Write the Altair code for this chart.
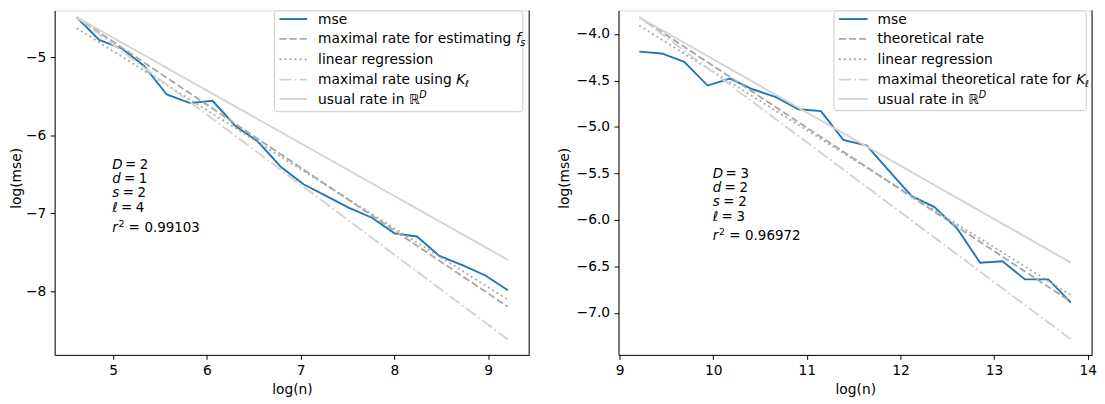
import altair as alt
import pandas as pd

FONT = "DejaVu Sans"
FS = 13.9
AFS = 13.5
LW = 1.9

# ---------------- data ----------------
# left panel
left_logn = [4.61, 4.85, 5.09, 5.33, 5.57, 5.82, 6.06, 6.30, 6.54, 6.79,
             7.03, 7.27, 7.51, 7.76, 8.00, 8.24, 8.48, 8.73, 8.97, 9.21]
left_mse = [-4.49, -4.78, -4.89, -5.115, -5.48, -5.59, -5.56, -5.88, -6.08, -6.41,
            -6.63, -6.78, -6.93, -7.06, -7.26, -7.30, -7.55, -7.67, -7.80, -7.99]
left_ends = [4.61, 9.21]
left_rate_fs = [-4.49, -8.20]
left_linreg = [-4.63, -8.11]
left_rate_K = [-4.49, -8.62]
left_usual = [-4.49, -7.60]

# right panel
right_logn = [9.21, 9.45, 9.69, 9.94, 10.18, 10.42, 10.67, 10.91, 11.15, 11.39,
              11.64, 11.88, 12.12, 12.36, 12.61, 12.85, 13.09, 13.33, 13.58, 13.82]
right_mse = [-4.19, -4.21, -4.30, -4.555, -4.48, -4.595, -4.68, -4.81, -4.83, -5.14,
             -5.20, -5.475, -5.745, -5.86, -6.10, -6.46, -6.445, -6.64, -6.64, -6.89]
right_ends = [9.21, 13.82]
right_theory = [-3.82, -6.88]
right_linreg = [-3.91, -6.81]
right_rate_K = [-3.82, -7.285]
right_usual = [-3.82, -6.46]

left_xticks = [5, 6, 7, 8, 9]
left_yticks = [-8, -7, -6, -5]
right_xticks = [9, 10, 11, 12, 13, 14]
right_yticks = [-7.0, -6.5, -6.0, -5.5, -5.0, -4.5, -4.0]

left_legend = ["mse", "maximal rate for estimating ", "linear regression",
               "maximal rate using ", "usual rate in "]
right_legend = ["mse", "theoretical rate", "linear regression",
                "maximal theoretical rate for ", "usual rate in "]
left_math = [None, ("f", "s", "sub"), None, ("K", "ℓ", "sub"), ("ℝ", "D", "sup")]
right_math = [None, None, None, ("K", "ℓ", "sub"), ("ℝ", "D", "sup")]

param_names = ["D", "d", "s", "ℓ", "r"]
left_values = ["2", "1", "2", "4", "0.99103"]
right_values = ["3", "2", "2", "3", "0.96972"]

# ---------------- styles ----------------
BLUE = "#1f77b4"
DARK = "#a9a9a9"
LIGHT = "#d3d3d3"
STYLES = [
    dict(color=BLUE, dash=None),
    dict(color=DARK, dash=[7.1, 3.1]),
    dict(color=DARK, dash=[1.9, 3.2]),
    dict(color=LIGHT, dash=[12.3, 3.1, 1.9, 3.1]),
    dict(color=LIGHT, dash=None),
]

ADV = {' ': 0.318, 'a': 0.613, 'b': 0.635, 'c': 0.550, 'd': 0.635, 'e': 0.615, 'f': 0.352,
       'g': 0.635, 'h': 0.634, 'i': 0.278, 'j': 0.278, 'k': 0.579, 'l': 0.278, 'm': 0.974,
       'n': 0.634, 'o': 0.612, 'p': 0.635, 'q': 0.635, 'r': 0.411, 's': 0.521, 't': 0.392,
       'u': 0.634, 'v': 0.592, 'w': 0.818, 'x': 0.592, 'y': 0.592, 'z': 0.525,
       'D': 0.770, 'K': 0.656, 'ℝ': 0.72, 'ℓ': 0.42}
# offset of "=" after each italic name, and of the value after "="
EQ_OFF = {"D": 12.8, "d": 11.8, "s": 10.5, "ℓ": 8.8, "r": 16.5}
VAL_OFF = {"D": 15.0, "d": 15.0, "s": 15.0, "ℓ": 15.0, "r": 16.0}


def text_w(s, fs):
    return sum(ADV.get(c, 0.6) for c in s) * fs


def one():
    return pd.DataFrame({"k": [0]})


def txt(x, y, s, fs=FS, style="normal"):
    return (alt.Chart(one())
            .mark_text(align="left", baseline="alphabetic", font=FONT, fontSize=fs,
                       color="black", fontStyle=style)
            .encode(x=alt.value(x), y=alt.value(y), text=alt.value(s)))


def panel(logn, mse, ends, refs, xdom, ydom, xticks, yticks, yfmt, w, h,
          yextent, ytpad, legend, math, box, handle_x, text_x, values, ann_x, ann_y):
    x_enc = alt.X("x:Q", scale=alt.Scale(domain=xdom, nice=False, zero=False),
                  axis=alt.Axis(values=xticks, format="d", title="log(n)", grid=False,
                                labelFont=FONT, labelFontSize=FS, labelColor="black",
                                titleFont=FONT, titleFontSize=FS, titleFontWeight="normal",
                                titleColor="black", tickColor="black", tickSize=4.5,
                                tickWidth=1, domainColor="black", domainWidth=1,
                                labelPadding=4, titlePadding=6, labelFlush=False,
                                labelOverlap=False))
    y_enc = alt.Y("y:Q", scale=alt.Scale(domain=ydom, nice=False, zero=False),
                  axis=alt.Axis(values=yticks, format=yfmt, title="log(mse)", grid=False,
                                labelFont=FONT, labelFontSize=FS, labelColor="black",
                                titleFont=FONT, titleFontSize=FS, titleFontWeight="normal",
                                titleColor="black", tickColor="black", tickSize=4.5,
                                tickWidth=1, domainColor="black", domainWidth=1,
                                labelPadding=4.5, titlePadding=ytpad, minExtent=yextent,
                                maxExtent=yextent, titleY=168.7, labelFlush=False,
                                labelOverlap=False))
    layers = []
    series = [(logn, mse)] + [(ends, r) for r in refs]
    for (xs, ys), st in zip(series, STYLES):
        kw = dict(color=st["color"], strokeWidth=LW, strokeCap="butt")
        if st["dash"]:
            kw["strokeDash"] = st["dash"]
        layers.append(alt.Chart(pd.DataFrame({"x": xs, "y": ys})).mark_line(**kw)
                      .encode(x=x_enc, y=y_enc))
    # right spine
    layers.append(alt.Chart(one()).mark_rule(color="black", strokeWidth=1)
                  .encode(x=alt.value(w), y=alt.value(0), y2=alt.value(h)))
    # legend box
    layers.append(alt.Chart(one()).mark_rect(fill="white", fillOpacity=0.8, stroke="#cccccc",
                                             strokeWidth=1, cornerRadius=3)
                  .encode(x=alt.value(box[0]), x2=alt.value(box[1]),
                          y=alt.value(box[2]), y2=alt.value(box[3])))
    hy = [8.7, 28.7, 49.2, 69.7, 89.2]
    for i, (lab, st) in enumerate(zip(legend, STYLES)):
        kw = dict(color=st["color"], strokeWidth=LW, strokeCap="butt")
        if st["dash"]:
            kw["strokeDash"] = st["dash"]
        layers.append(alt.Chart(one()).mark_rule(**kw)
                      .encode(x=alt.value(handle_x[0]), x2=alt.value(handle_x[1]),
                              y=alt.value(hy[i])))
        by = hy[i] + 4.6
        layers.append(txt(text_x, by, lab.rstrip()))
        m = math[i]
        if m:
            mx = text_x + text_w(lab, FS)
            main, small, kind = m
            layers.append(txt(mx, by, main, style="normal" if main == "ℝ" else "italic"))
            sx = mx + text_w(main, FS) + (0.5 if kind == "sup" else -0.5)
            sy = by + 2.8 if kind == "sub" else by - 6
            layers.append(txt(sx, sy, small, fs=FS * 0.7, style="italic"))
    # parameter annotation
    for name, val, ay in zip(param_names, values, ann_y):
        layers.append(txt(ann_x, ay, name, fs=AFS, style="italic"))
        if name == "r":
            layers.append(txt(ann_x + 6.2, ay - 5.5, "2", fs=AFS * 0.7))
        ex = ann_x + EQ_OFF[name]
        layers.append(txt(ex, ay, "=", fs=AFS))
        layers.append(txt(ex + VAL_OFF[name], ay, val, fs=AFS))
    return alt.layer(*layers).properties(width=w, height=h)


left = panel(left_logn, left_mse, left_ends,
             [left_rate_fs, left_linreg, left_rate_K, left_usual],
             [4.375, 9.437], [-8.818, -4.402], left_xticks, left_yticks, "d", 478, 347,
             30, 1.8, left_legend, left_math, [221.4, 471.6, 0.5, 102], [226.4, 254.4], 265.4,
             left_values, 58, [159.4, 173.9, 188.4, 202.9, 223.4])

right = panel(right_logn, right_mse, right_ends,
              [right_theory, right_linreg, right_rate_K, right_usual],
              [8.988, 14.046], [-7.452, -3.747], right_xticks, right_yticks, ".1f", 477, 347,
              43, 4.1, right_legend, right_math, [217, 471.2, 0.5, 101], [222, 251], 261,
              right_values, 95, [168.4, 182.9, 197.4, 211.9, 231.4])

chart = alt.hconcat(left, right, spacing=27).properties(
    padding={"left": 0, "top": 0, "right": 0, "bottom": 0}
).configure_view(stroke=None).configure(background="white")

chart.save("out.html", embed_options={"renderer": "svg", "actions": False})
